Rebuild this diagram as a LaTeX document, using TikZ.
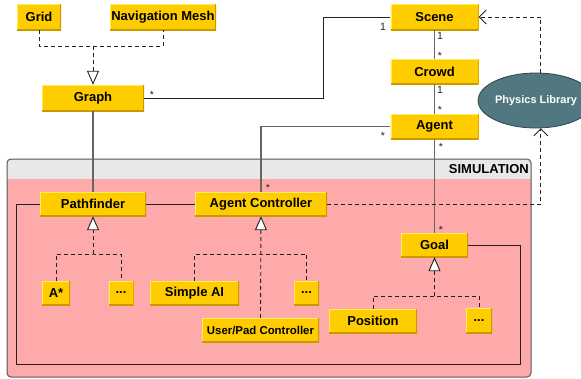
\documentclass[tikz,border=0pt]{standalone}
\usepackage{fontspec}
\setmainfont{Liberation Sans}
\usetikzlibrary{arrows.meta,shapes.geometric,calc}
\definecolor{boxfill}{HTML}{FFCC00}
\definecolor{boxlight}{HTML}{FFEE55}
\definecolor{boxdark}{HTML}{C89A00}
\definecolor{simpink}{HTML}{FFAAAA}
\definecolor{simhead}{HTML}{E8E8E8}
\definecolor{simframe}{HTML}{555555}
\definecolor{physfill}{HTML}{517780}
\definecolor{physdraw}{HTML}{2E4448}
\definecolor{conngray}{HTML}{666666}
\definecolor{conndark}{HTML}{222222}
\tikzset{
  box/.style={fill=boxfill, inner sep=0pt, font=\bfseries\fontsize{13}{15}\selectfont,
    path picture={
      \draw[boxlight,line width=2pt] (path picture bounding box.south west) -- (path picture bounding box.north west) -- (path picture bounding box.north east);
      \draw[boxdark,line width=2pt] (path picture bounding box.north east) -- (path picture bounding box.south east) -- (path picture bounding box.south west);
    }},
  conn/.style={draw=conndark, line width=0.9pt},
  conng/.style={draw=conngray, line width=1.2pt},
  dconn/.style={draw=conndark, line width=0.9pt, dash pattern=on 4pt off 3pt},
  inherit/.style={dconn, -{Triangle[open, length=14pt, width=12pt, fill=white, line width=0.9pt]}},
  depend/.style={dconn, -{Straight Barb[length=7pt, width=14pt, line width=0.9pt]}},
  mult/.style={font=\fontsize{10.5}{12}\selectfont, text=conndark, inner sep=0pt},
}
\begin{document}
\begin{tikzpicture}[x=1pt,y=-1pt]
\useasboundingbox (0,0) rectangle (581,378);
% simulation package
\begin{scope}
  \clip[rounded corners=4pt] (7,159) rectangle (531,377);
  \fill[simpink] (7,159) rectangle (531,377);
  \fill[simhead] (7,159) rectangle (531,179);
\end{scope}
\draw[simframe, line width=1pt, rounded corners=4pt] (7,159) rectangle (531,377);
\node[anchor=east, font=\bfseries\fontsize{13}{15}\selectfont, inner sep=0pt] (simlabel) at (529,169) {SIMULATION};

% boxes
\node[box, minimum width=44, minimum height=26] (grid) at (39,17) {Grid};
\node[box, minimum width=106, minimum height=26] (navmesh) at (163,17) {Navigation Mesh};
\node[box, minimum width=102, minimum height=26] (graph) at (93,98) {Graph};
\node[box, minimum width=88, minimum height=26] (scene) at (434.5,17) {Scene};
\node[box, minimum width=88, minimum height=25] (crowd) at (434.5,71.5) {Crowd};
\node[box, minimum width=88, minimum height=25] (agent) at (434.5,126.5) {Agent};
\node[box, minimum width=106, minimum height=24] (pathfinder) at (93,204) {Pathfinder};
\node[box, minimum width=132, minimum height=24] (agentctl) at (261,204) {Agent Controller};
\node[box, minimum width=28, minimum height=24] (astar) at (56,293) {A*};
\node[box, minimum width=25, minimum height=24] (dotsa) at (121,293) {...};
\node[box, minimum width=89, minimum height=24] (simpleai) at (194.5,293) {Simple AI};
\node[box, minimum width=25, minimum height=24] (dotsb) at (306.5,293) {...};
\node[box, minimum width=117, minimum height=24, font=\bfseries\fontsize{11.4}{13}\selectfont] (userpad) at (260.5,330) {User/Pad Controller};
\node[box, minimum width=67, minimum height=24] (goal) at (434.5,245) {Goal};
\node[box, minimum width=88, minimum height=24] (position) at (373,321) {Position};
\node[box, minimum width=26, minimum height=25] (dotsc) at (479,320.5) {...};
\node[ellipse, fill=physfill, draw=physdraw, line width=0.8pt, minimum width=92, minimum height=55, inner sep=0pt,
  text=white, font=\bfseries\fontsize{11}{13}\selectfont] (physics) at (536,100.5) {Physics Library};

% generalisations
\coordinate (gg) at (93,46);
\draw[dconn] (grid.south) |- (gg) -| (navmesh.south);
\draw[inherit] (gg) -- (graph.north);
\coordinate (pj) at (93,254);
\draw[dconn] (astar.north) |- (pj) -| (dotsa.north);
\draw[inherit] (pj) -- (pathfinder.south);
\coordinate (aj) at (261,254);
\draw[dconn] (simpleai.north) |- (aj) -| (dotsb.north);
\draw[inherit] (userpad.north) -- (agentctl.south);
\coordinate (gj) at (434.5,296);
\draw[dconn] (position.north) |- (gj) -| (dotsc.north);
\draw[inherit] (gj) -- (goal.south);

% associations
\draw[conn] (graph.east) -- ++(179,0) |- (scene.west);
\node[mult] (m1) at (152,95) {*};
\node[mult] (m2) at (383,27) {1};
\draw[conng] (scene) -- (crowd);
\node[mult] (m3) at (440,36) {1};
\node[mult] (m4) at (440,56) {*};
\draw[conng] (crowd) -- (agent);
\node[mult] (m5) at (440,90) {1};
\node[mult] (m6) at (440,110) {*};
\draw[conng] (agent) -- (goal);
\node[mult] (m7) at (441,147) {*};
\node[mult] (m8) at (441,230) {*};
\draw[conng] (agent.west) -| (agentctl.north);
\node[mult] (m9) at (383,136) {*};
\node[mult] (m10) at (268,188) {*};
\draw[conng] (graph) -- (pathfinder);
\draw[conn] (pathfinder.east) -- (agentctl.west);
\draw[conn] (pathfinder.west) -- ++(-23,0) -- ++(0,160) -- (520,364) |- (goal.east);

% dependencies to physics library
\draw[depend] (physics.80) |- (scene.east);
\draw[depend] (agentctl.east) -| (physics.-80);
\end{tikzpicture}
\end{document}
